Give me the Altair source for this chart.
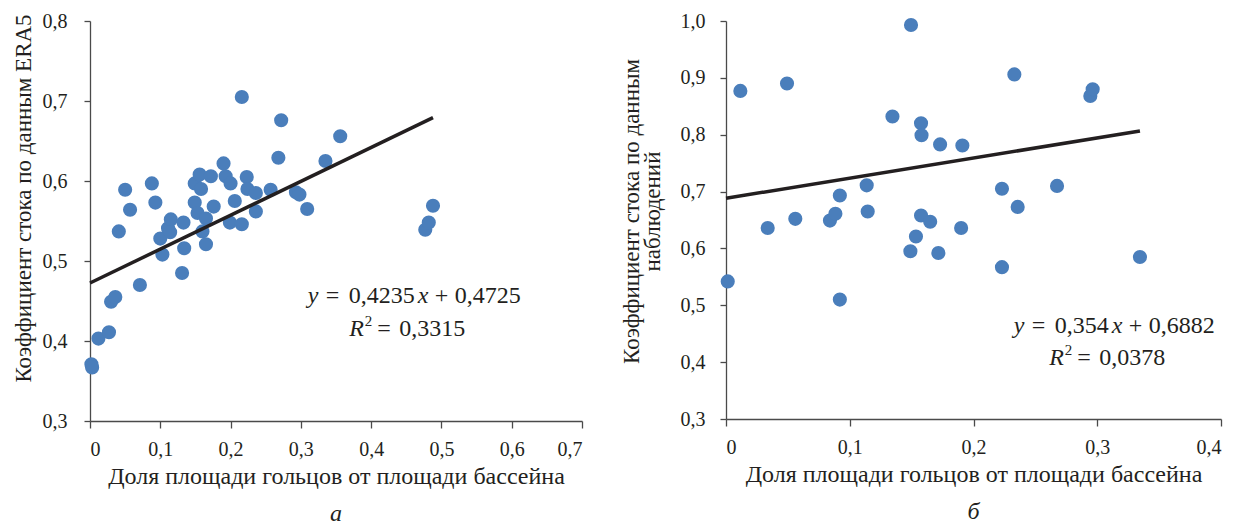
import altair as alt
import pandas as pd

# ---------------- data ----------------
# panel а: ERA5 runoff coefficient vs share of "golets" area
era_x = [0.002, 0.003, 0.012, 0.027, 0.030, 0.036, 0.041, 0.050, 0.057, 0.071,
         0.088, 0.093, 0.100, 0.103, 0.111, 0.115, 0.114, 0.133, 0.134, 0.131,
         0.149, 0.156, 0.172, 0.158, 0.149, 0.153, 0.176, 0.165, 0.160, 0.165,
         0.190, 0.193, 0.200, 0.206, 0.199, 0.216, 0.216, 0.223, 0.224, 0.236,
         0.236, 0.257, 0.268, 0.272, 0.293, 0.298, 0.309, 0.335, 0.356, 0.477,
         0.482, 0.488]
era_y = [0.371, 0.367, 0.403, 0.411, 0.449, 0.455, 0.537, 0.589, 0.564, 0.470,
         0.597, 0.573, 0.528, 0.508, 0.541, 0.552, 0.536, 0.548, 0.516, 0.485,
         0.597, 0.608, 0.606, 0.590, 0.573, 0.560, 0.568, 0.553, 0.537, 0.521,
         0.622, 0.606, 0.597, 0.575, 0.548, 0.546, 0.705, 0.605, 0.590, 0.585,
         0.562, 0.589, 0.629, 0.676, 0.586, 0.583, 0.565, 0.625, 0.656, 0.539,
         0.548, 0.569]
era_slope, era_icpt = 0.4235, 0.4725
era_eq = ["y", "=", "0,4235", "x", "+", "0,4725"]
era_r2 = ["R", "2", "=", "0,3315"]

# panel б: observed runoff coefficient
obs_x = [0.0014, 0.0116, 0.0337, 0.0493, 0.056, 0.084, 0.0884, 0.092, 0.092, 0.1137,
         0.1145, 0.1345, 0.149, 0.1495, 0.1535, 0.1576, 0.158, 0.1576, 0.165, 0.1716,
         0.173, 0.190, 0.191, 0.223, 0.223, 0.233, 0.2357, 0.2675, 0.2944, 0.2963,
         0.3345]
obs_y = [0.542, 0.877, 0.636, 0.890, 0.652, 0.649, 0.661, 0.693, 0.510, 0.711,
         0.665, 0.832, 0.595, 0.993, 0.621, 0.820, 0.799, 0.658, 0.647, 0.592,
         0.783, 0.636, 0.781, 0.705, 0.567, 0.906, 0.673, 0.710, 0.868, 0.880,
         0.585]
obs_slope, obs_icpt = 0.354, 0.6882
obs_eq = ["y", "=", "0,354", "x", "+", "0,6882"]
obs_r2 = ["R", "2", "=", "0,0378"]

x_title = "Доля площади гольцов от площади бассейна"
era_ytitle = "Коэффициент стока по данным ERA5"
obs_ytitle = ["Коэффициент стока по данным", "наблюдений"]
era_xticks = [0, 0.1, 0.2, 0.3, 0.4, 0.5, 0.6, 0.7]
era_yticks = [0.3, 0.4, 0.5, 0.6, 0.7, 0.8]
obs_xticks = [0, 0.1, 0.2, 0.3, 0.4]
obs_yticks = [0.3, 0.4, 0.5, 0.6, 0.7, 0.8, 0.9, 1.0]
captions = ["а", "б"]

# annotation anchors (data coordinates where the equation text starts)
era_eq_pos = (0.3097, 0.448)
era_r2_pos = (0.369, 0.406)
obs_eq_pos = (0.2325, 0.4514)
obs_r2_pos = (0.2613, 0.3947)

# ---------------- styling ----------------
FONT = "Liberation Serif"
BLUE = "#4a7ebb"
INK = "#231f20"
AXC = "#4a4a4a"
XLAB = "datum.value == 0 ? '0' : replace(format(datum.value, '.1f'), '.', ',')"
YLAB = "replace(format(datum.value, '.1f'), '.', ',')"
EQ_SIZE = 24


def panel(xs, ys, slope, icpt, eq, r2, eq_pos, r2_pos, xdom, ydom, xticks, yticks,
          ytitle, w, h, ytx, yty, ylabpad, caption, eq_dx):
    pts = pd.DataFrame({"x": xs, "y": ys})
    xmax = max(xs)
    line = pd.DataFrame({"x": [0.0, xmax], "y": [icpt, icpt + slope * xmax]})

    X = alt.X("x:Q", scale=alt.Scale(domain=xdom, nice=False, zero=False),
              axis=alt.Axis(values=xticks, labelExpr=XLAB, grid=False, title=x_title,
                            tickSize=7, labelPadding=11, titleY=55,
                            titleAlign="center", titleBaseline="middle"))
    Y = alt.Y("y:Q", scale=alt.Scale(domain=ydom, nice=False, zero=False),
              axis=alt.Axis(values=yticks, labelExpr=YLAB, grid=False, title=ytitle,
                            tickSize=6, labelPadding=ylabpad, titleX=ytx, titleY=yty,
                            titleAngle=270, titleAlign="center", titleFontSize=23,
                            titleBaseline="middle", titleLineHeight=21))

    layers = [
        alt.Chart(pts).mark_circle(size=200, opacity=1, color=BLUE).encode(x=X, y=Y),
        alt.Chart(line).mark_line(color=INK, strokeWidth=3.5).encode(x=X, y=Y),
    ]

    def piece(pos, txt, dx, dy=0, italic=False, size=EQ_SIZE):
        d = pd.DataFrame({"x": [pos[0]], "y": [pos[1]], "t": [txt]})
        return alt.Chart(d).mark_text(
            align="left", baseline="alphabetic", dx=dx, dy=dy, font=FONT,
            fontSize=size, fontStyle="italic" if italic else "normal", color=INK
        ).encode(x=X, y=Y, text="t:N")

    italic_tokens = {"x", "y", "R"}
    for tok, dx in zip(eq, eq_dx):
        layers.append(piece(eq_pos, tok, dx, italic=tok in italic_tokens))
    r2_dx = [0, 15.5, 28, 50]
    for tok, dx in zip(r2, r2_dx):
        if tok == "2":
            layers.append(piece(r2_pos, tok, dx, dy=-10, size=15))
        else:
            layers.append(piece(r2_pos, tok, dx, italic=tok in italic_tokens))

    return alt.layer(*layers).properties(
        width=w, height=h,
        title=alt.TitleParams(caption, orient="bottom", anchor="middle", frame="group",
                              font=FONT, fontSize=24, fontStyle="italic",
                              fontWeight="normal", color=INK, offset=14),
    )


left = panel(era_x, era_y, era_slope, era_icpt, era_eq, era_r2, era_eq_pos, era_r2_pos,
             [0, 0.7], [0.3, 0.8], era_xticks, era_yticks, era_ytitle,
             492, 400, -67, 177, 17, captions[0], [0, 18, 41, 110, 127, 147])
right = panel(obs_x, obs_y, obs_slope, obs_icpt, obs_eq, obs_r2, obs_eq_pos, obs_r2_pos,
              [0, 0.4], [0.3, 1.0], obs_xticks, obs_yticks, obs_ytitle,
              495, 398, -95, 190, 15, captions[1], [0, 18, 41, 98, 115, 135])

chart = alt.hconcat(left, right, spacing=144, bounds="flush").properties(
    padding={"left": 3, "top": 3, "right": 5, "bottom": 0}
).configure_view(stroke=None).configure_axis(
    labelFont=FONT, labelFontSize=20, labelColor=INK,
    titleFont=FONT, titleFontSize=24, titleColor=INK, titleFontWeight="normal",
    domainColor=AXC, tickColor=AXC, domainWidth=1.3, tickWidth=1.3,
)

chart.save("out.html", embed_options={"renderer": "svg", "actions": False})
